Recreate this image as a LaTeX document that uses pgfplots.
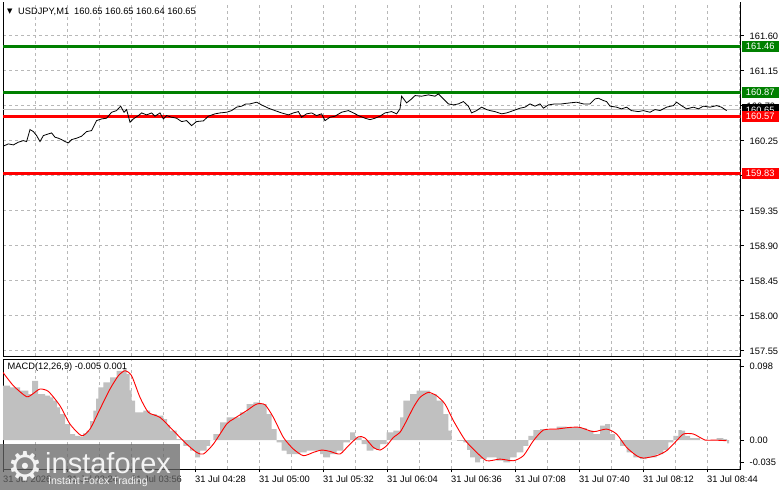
\documentclass[border=0pt]{standalone}
\usepackage{pgfplots}
\pgfplotsset{compat=1.18}
\usepackage{pgfplotstable}
\usepackage{fontspec}
\setmainfont{Liberation Sans}
\newfontfamily\dejavu{DejaVu Sans}

\definecolor{mtgreen}{HTML}{008000}
\definecolor{mtred}{HTML}{FF0000}
\definecolor{histgray}{HTML}{C0C0C0}
\definecolor{gridgray}{HTML}{B8B8B8}

% minutes from 02:52, close price
\pgfplotstableread{
m p
0 160.182
2.7 160.212
5.2 160.199
7.7 160.234
10.2 160.254
11.8 160.242
13.5 160.396
15.2 160.370
16.8 160.319
18.5 160.242
20.2 160.319
22.7 160.340
24.3 160.353
26 160.298
27.7 160.285
29.3 160.267
31 160.242
32.7 160.225
34.3 160.267
36.8 160.285
39.3 160.311
41.8 160.370
44.3 160.383
46.8 160.511
49.3 160.533
51.8 160.542
54.3 160.619
56.8 160.640
58.8 160.697
60.5 160.619
61.8 160.653
63.5 160.491
65.2 160.533
67.7 160.576
69.3 160.610
71.8 160.585
74.3 160.610
76 160.568
78.5 160.610
80.2 160.533
81.8 160.576
84.3 160.555
86.8 160.542
89.3 160.499
91.8 160.511
94.3 160.447
96.8 160.499
100.2 160.508
102.7 160.568
106 160.598
108.5 160.610
111.8 160.619
114.3 160.640
116.8 160.684
119.3 160.697
121.5 160.726
123.5 160.726
126.8 160.748
129.3 160.713
132.7 160.671
136 160.640
139.3 160.610
142.7 160.585
145.2 160.610
147.7 160.627
149.3 160.555
151.8 160.598
154.3 160.610
156.8 160.576
159.3 160.598
161 160.511
163.5 160.555
166 160.568
169.3 160.619
172.7 160.640
175.2 160.610
177.7 160.576
181 160.542
183.5 160.524
186 160.542
188.5 160.568
191 160.610
194.3 160.627
196.8 160.598
198.5 160.662
199.3 160.825
201.8 160.739
204.3 160.790
206 160.833
209.3 160.825
212.7 160.842
216 160.825
217.7 160.855
220.2 160.790
222.7 160.726
225.2 160.713
227.7 160.726
230.2 160.756
232.7 160.697
234.3 160.610
236.8 160.640
239.3 160.684
241.8 160.653
243.5 160.640
246 160.627
249.3 160.598
251.8 160.610
255.2 160.640
258.5 160.671
261 160.684
263.5 160.726
266 160.697
268.5 160.726
270.2 160.671
272.7 160.713
276 160.726
279.3 160.726
283.5 160.739
286.8 160.748
290.2 160.726
293.5 160.726
296 160.790
297.7 160.799
300.2 160.769
301.8 160.756
303.5 160.697
306.8 160.684
309.2 160.662
311.8 160.684
314.2 160.640
317.7 160.627
320.2 160.640
323.5 160.619
326 160.653
328.5 160.640
331.8 160.684
335.2 160.704
336.8 160.748
339.2 160.704
341.8 160.662
345.2 160.684
347.7 160.662
350.2 160.697
353.5 160.684
356.8 160.704
359.2 160.684
361.8 160.640
}\price

% MACD main (histogram)
\pgfplotstableread{
m v
0 0.0657
3.5 0.0637
8.5 0.0597
12.7 0.0556
14.5 0.0717
17.5 0.0556
21 0.0536
23.5 0.0516
25.2 0.0476
27 0.0395
28.5 0.0314
31 0.0193
33.5 0.0073
36 0.0052
38.5 0.0040
40 0.0080
41.8 0.0113
43.5 0.0230
45.2 0.0355
46.5 0.0500
47.7 0.0637
50.2 0.0697
53.5 0.0758
56.8 0.0838
60.2 0.0859
61.8 0.0798
63.3 0.0600
64.3 0.0476
66 0.0335
70.2 0.0355
73.5 0.0314
76.8 0.0294
80.2 0.0254
82 0.0180
83.5 0.0113
86.8 0.0012
90.2 -0.0069
93.5 -0.0129
96 -0.0210
98.5 -0.0129
101.8 -0.0069
103.5 0.0000
105.2 0.0073
108.5 0.0214
111.8 0.0274
115.2 0.0274
118.5 0.0335
121.8 0.0435
125.2 0.0455
128.5 0.0435
131.8 0.0314
134.3 0.0133
136.8 -0.0028
139.3 -0.0129
141.8 -0.0169
145.2 -0.0169
148.5 -0.0149
151.8 -0.0129
156.8 -0.0129
158.5 -0.0170
160.2 -0.0210
163.5 -0.0169
166.8 -0.0129
170.2 -0.0028
173.5 0.0093
176 0.0032
179.3 -0.0048
181.8 -0.0129
185.2 -0.0109
188.5 -0.0048
191.8 0.0093
195.2 0.0113
198.5 0.0274
200.2 0.0476
203.5 0.0556
206.8 0.0597
210.2 0.0597
213.5 0.0556
216.8 0.0476
220.2 0.0314
222.7 0.0113
224.3 0.0000
227 -0.0010
230.2 -0.0028
232 -0.0120
233.5 -0.0210
236 -0.0270
238.5 -0.0230
241.8 -0.0210
246.8 -0.0250
250.2 -0.0270
253.5 -0.0210
256.8 -0.0149
260.2 -0.0069
262.7 0.0052
265.2 0.0121
268.5 0.0133
271.8 0.0121
276.8 0.0161
281.8 0.0153
288.5 0.0145
291.8 0.0113
295.2 0.0073
298.5 0.0173
301 0.0193
303.5 0.0073
306 0.0000
308.5 -0.0069
311.8 -0.0149
315.2 -0.0210
318.5 -0.0230
321.8 -0.0210
326.8 -0.0169
330.2 -0.0121
332.7 -0.0028
335.2 0.0052
337.7 0.0121
339.3 0.0113
341 0.0052
343.5 0.0024
348.5 0.0000
353.5 0.0000
356.8 0.0024
360.2 0.0012
362 -0.0040
363 -0.0040
}\hist

% MACD signal line
\pgfplotstableread{
m s
0 0.0818
5.2 0.0657
11.8 0.0524
15.2 0.0564
18.5 0.0617
22.7 0.0588
28.5 0.0415
33.5 0.0193
39.3 0.0052
43.5 0.0133
48.5 0.0375
53.5 0.0617
57.7 0.0778
61 0.0838
64.3 0.0778
68.5 0.0516
72.7 0.0335
78.5 0.0274
85.2 0.0113
91.8 -0.0048
96.8 -0.0149
100.2 -0.0169
105.2 -0.0048
111.8 0.0193
115.2 0.0254
121.8 0.0355
126.8 0.0435
131 0.0427
135.2 0.0274
140.2 0.0032
145.2 -0.0109
150.2 -0.0189
155.2 -0.0149
159.3 -0.0121
163.5 -0.0137
168.5 -0.0169
172.7 -0.0069
177.7 0.0040
181 0.0024
185.2 -0.0089
188.5 -0.0121
191.8 -0.0069
195.2 0.0032
198.5 0.0093
201.8 0.0234
205.2 0.0395
208.5 0.0516
212.7 0.0576
216.8 0.0536
221 0.0435
225.2 0.0234
231 0.0000
236 -0.0129
241.8 -0.0250
248.5 -0.0230
255.2 -0.0250
260.2 -0.0189
265.2 -0.0008
270.2 0.0121
276.8 0.0133
283.5 0.0153
288.5 0.0153
295.2 0.0101
301.8 0.0133
306.8 0.0073
311.8 -0.0089
316.8 -0.0189
320.2 -0.0218
326.8 -0.0189
331.8 -0.0129
336.8 -0.0008
340.2 0.0073
345.2 0.0073
351 0.0000
355.2 0.0000
361.8 -0.0008
}\signal

\tikzset{
  lbl/.style={anchor=west, minimum width=37pt, minimum height=11pt, inner sep=0pt,
    text=white, font=\fontsize{9.3}{10}\selectfont, xshift=1pt},
  tlbl/.style={anchor=west, inner sep=0pt, font=\fontsize{9.3}{10}\selectfont, xshift=6pt},
}

\begin{document}
\begin{tikzpicture}
\fill[white] (0pt,0pt) rectangle (781pt,489pt);

% price window
\begin{axis}[
  at={(3pt,134pt)}, anchor=south west,
  scale only axis, width=737.5pt, height=353pt,
  xmin=0, xmax=368.75, ymin=157.4857, ymax=162.023,
  axis line style={black, line width=1pt},
  ytick pos=right, yticklabel pos=right,
  ytick={157.55,158.00,158.45,158.90,159.35,159.80,160.25,160.70,161.15,161.60},
  yticklabels={157.55,158.00,158.45,158.90,159.35,,160.25,,161.15,161.60},
  tick align=outside, major tick length=3pt,
  ytick style={black, line width=1pt},
  xtick={16,32,...,368}, xticklabel=\empty, xtick style={draw=none},
  grid=major,
  major grid style={gridgray, dash pattern=on 3pt off 3pt, line width=1pt},
  yticklabel style={tlbl},
  clip mode=individual,
]
\addplot[mtgreen, line width=3pt] coordinates {(0,161.46) (368.75,161.46)};
\addplot[mtgreen, line width=3pt] coordinates {(0,160.87) (368.75,160.87)};
\addplot[histgray, line width=1pt] coordinates {(0,160.65) (368.75,160.65)};
\addplot[mtred, line width=3pt] coordinates {(0,160.57) (368.75,160.57)};
\addplot[mtred, line width=3pt] coordinates {(0,159.83) (368.75,159.83)};
\addplot[black, line width=0.8pt] table[x=m, y=p] {\price};

\node[tlbl] at (axis cs:368.75,160.70) {160.70};
\node[tlbl] at (axis cs:368.75,159.80) {159.80};
\node[lbl, fill=mtgreen] at (axis cs:368.75,161.46) {161.46};
\node[lbl, fill=mtgreen] at (axis cs:368.75,160.87) {160.87};
\node[lbl, fill=black] at (axis cs:368.75,160.65) {160.65};
\node[lbl, fill=mtred] at (axis cs:368.75,160.57) {160.57};
\node[lbl, fill=mtred] at (axis cs:368.75,159.83) {159.83};
\end{axis}
% the window runs on above the visible part: no top border
\draw[white, line width=1.6pt] (4pt,487pt) -- (739.5pt,487pt);

% MACD window
\begin{axis}[
  at={(3pt,21pt)}, anchor=south west,
  scale only axis, width=737.5pt, height=110pt,
  xmin=0, xmax=368.75, ymin=-0.035, ymax=0.098,
  axis line style={black, line width=1pt},
  ytick pos=right, yticklabel pos=right,
  ytick={-0.0266,0,0.0895}, yticklabels={-0.035,0.00,0.098},
  scaled y ticks=false,
  tick align=outside, major tick length=3pt, minor tick length=0pt,
  tick style={black, line width=1pt},
  xtick pos=left,
  xtick={0,32,...,352},
  xticklabels={31 Jul 2026,31 Jul 03:24,31 Jul 03:56,31 Jul 04:28,31 Jul 05:00,31 Jul 05:32,31 Jul 06:04,31 Jul 06:36,31 Jul 07:08,31 Jul 07:40,31 Jul 08:12,31 Jul 08:44},
  minor xtick={16,48,...,368},
  xmajorgrids, xminorgrids,
  major grid style={gridgray, dash pattern=on 3pt off 3pt, line width=1pt},
  minor grid style={gridgray, dash pattern=on 3pt off 3pt, line width=1pt},
  yticklabel style={tlbl},
  xticklabel style={anchor=north west, inner sep=0pt, font=\fontsize{9.3}{10}\selectfont, yshift=-4pt},
  clip mode=individual,
]
\addplot[ybar interval, fill=histgray, draw=none] table[x=m, y=v] {\hist};
\addplot[mtred, line width=0.9pt, smooth, tension=0.4] table[x=m, y=s] {\signal};
\end{axis}

% window captions
\node[anchor=center, inner sep=0pt, font=\dejavu\fontsize{7}{8}\selectfont] at (9.7pt,478pt) {▼};
\node[anchor=west, inner sep=0pt, font=\fontsize{9.3}{10}\selectfont] at (18pt,478pt)
  {USDJPY,M1\hspace{5pt}160.65 160.65 160.64 160.65};
\node[anchor=west, inner sep=0pt, font=\fontsize{9.3}{10}\selectfont] at (7.5pt,122.5pt)
  {MACD(12,26,9) -0.005 0.001};

% watermark
\fill[black!60, opacity=0.75] (0pt,0pt) rectangle (180pt,46pt);
\node[text=white, opacity=0.9, inner sep=0pt, font=\dejavu\fontsize{40}{40}\selectfont] at (25pt,23.5pt) {⚙};
\node[anchor=base west, text=white, opacity=0.9, inner sep=0pt, font=\fontsize{29}{29}\selectfont] at (45pt,16.5pt) {instaforex};
\node[anchor=base west, text=white, opacity=0.9, inner sep=0pt, font=\fontsize{10.5}{11}\selectfont] at (48pt,6pt) {Instant Forex Trading};
\end{tikzpicture}
\end{document}
